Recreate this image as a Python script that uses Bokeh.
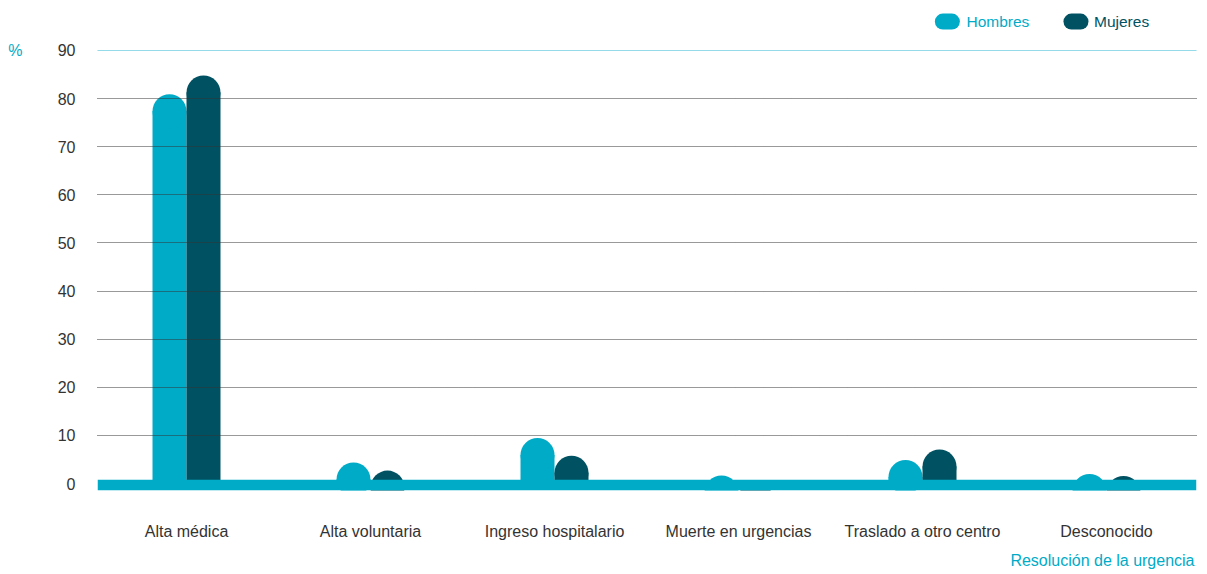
import numpy as np
from bokeh.plotting import figure
from bokeh.models import (Range1d, FixedTicker, Label, Span, BoxAnnotation,
                          ColumnDataSource, LinearAxis, Title)
from bokeh.embed import file_html
from bokeh.resources import INLINE

# Resolución de la urgencia, % por sexo
categorias = ["Alta médica", "Alta voluntaria", "Ingreso hospitalario",
              "Muerte en urgencias", "Traslado a otro centro", "Desconocido"]
hombres = [80.9, 4.4, 9.5, 1.7, 4.9, 2.0]
mujeres = [84.8, 2.7, 5.8, 0.5, 7.1, 1.6]
y_ticks = [0, 10, 20, 30, 40, 50, 60, 70, 80, 90]

CYAN = "#00abc7"
DARK = "#005262"
TEXT = "#333333"
FONT = "Liberation Sans"
FS = "16px"

FRAME_W, FRAME_H = 1099, 485
X0, X1 = -0.4837, 5.489
Y0, Y1 = -1.43, 99.35
BAR_PX = 34

p = figure(frame_width=FRAME_W, frame_height=FRAME_H,
           x_range=Range1d(X0, X1), y_range=Range1d(Y0, Y1),
           output_backend="svg", toolbar_location=None,
           min_border_left=97, min_border_right=11, min_border_top=5, min_border_bottom=84)
p.outline_line_color = None
p.background_fill_color = "white"
p.border_fill_color = "white"

# bar geometry: width in data units, rounded cap radius in data units
px_per_x = FRAME_W / (X1 - X0)
px_per_y = FRAME_H / (Y1 - Y0)
bar_w = BAR_PX / px_per_x
cap_r = (BAR_PX / 2) / px_per_y

idx = np.arange(len(categorias))
for vals, off, color in ((hombres, -bar_w / 2, CYAN), (mujeres, bar_w / 2, DARK)):
    v = np.array(vals)
    src = ColumnDataSource(dict(x=idx + off, top=np.maximum(v - cap_r, 0), cy=v - cap_r))
    p.vbar(x="x", top="top", bottom=0, width=bar_w, source=src,
           fill_color=color, line_color=None)
    p.scatter(x="x", y="cy", size=BAR_PX, marker="circle", source=src,
              fill_color=color, line_color=None)

# baseline band
p.add_layout(BoxAnnotation(top=0.8, fill_color=CYAN, fill_alpha=1, line_color=None))

# grid
p.xgrid.visible = False
p.ygrid.ticker = FixedTicker(ticks=y_ticks[1:-1])
p.ygrid.grid_line_color = "#333333"
p.ygrid.grid_line_dash = "1 1"
p.ygrid.grid_line_width = 1
p.ygrid.level = "overlay"
p.add_layout(Span(location=y_ticks[-1], dimension="width", line_color="#2bb5d0",
                  line_dash="1 1", line_width=1.2))

# unit marker "%" as an outer left axis with a single tick at the top value
unit_axis = LinearAxis(ticker=FixedTicker(ticks=[y_ticks[-1]]),
                       major_label_overrides={y_ticks[-1]: "%"})
p.add_layout(unit_axis, "left")

# axes
p.yaxis[0].ticker = FixedTicker(ticks=y_ticks)
p.xaxis.ticker = FixedTicker(ticks=list(idx))
p.xaxis.major_label_overrides = {int(i): c for i, c in zip(idx, categorias)}
for ax in (p.xaxis[0], p.yaxis[0], unit_axis):
    ax.axis_line_color = None
    ax.major_tick_line_color = None
    ax.minor_tick_line_color = None
    ax.major_tick_out = 0
    ax.major_tick_in = 0
    ax.major_label_text_font = FONT
    ax.major_label_text_font_size = FS
    ax.major_label_text_color = TEXT
p.yaxis[0].major_label_standoff = 22
unit_axis.major_label_standoff = 32
unit_axis.major_label_text_color = CYAN
p.xaxis.major_label_standoff = 32

# x axis title, right aligned under the labels
p.add_layout(Title(text="Resolución de la urgencia", align="right", text_font=FONT,
                   text_font_size=FS, text_font_style="normal", text_color=CYAN,
                   standoff=15, offset=2), "below")

# legend
leg_y = 96.0
p.scatter(x=[4.135, 4.834], y=[leg_y, leg_y], marker="dash", size=9,
          line_width=16, line_cap="round", line_color=[CYAN, DARK])
p.add_layout(Label(x=4.239, y=leg_y, text="Hombres", text_align="left",
                   text_baseline="middle", text_font=FONT, text_font_size="15.5px",
                   text_color=CYAN))
p.add_layout(Label(x=4.932, y=leg_y, text="Mujeres", text_align="left",
                   text_baseline="middle", text_font=FONT, text_font_size="15.5px",
                   text_color=DARK))

open("out.html", "w").write(file_html(p, INLINE))
